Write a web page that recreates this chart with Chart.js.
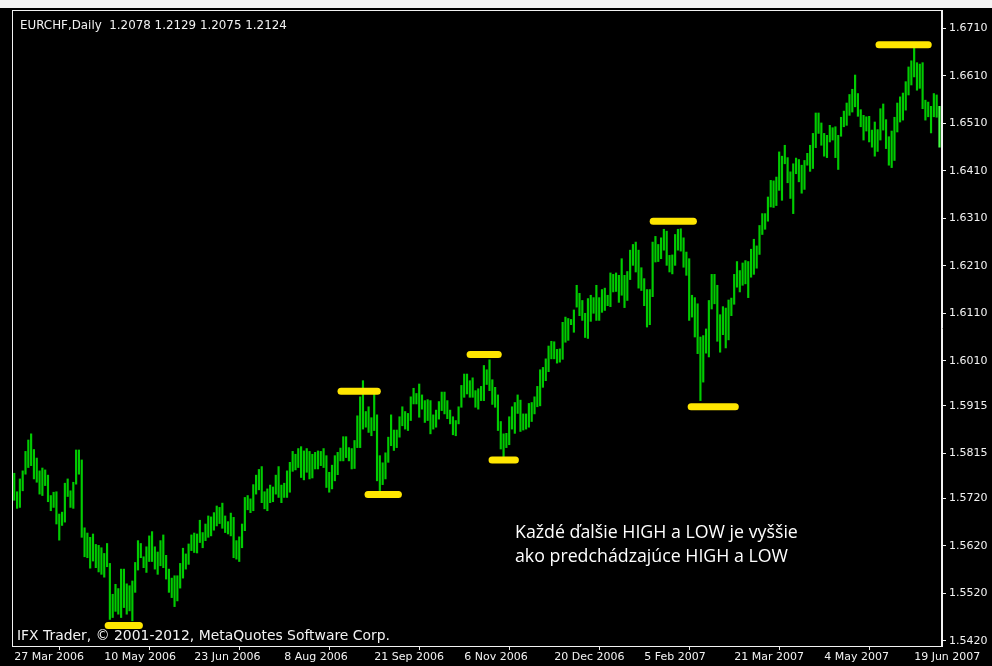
<!DOCTYPE html>
<html>
<head>
<meta charset="utf-8">
<title>EURCHF Daily</title>
<script src="https://cdn.jsdelivr.net/npm/chart.js@4.4.1/dist/chart.umd.min.js"></script>
<style>
  html, body { margin: 0; padding: 0; background: #000; }
  #wrap { width: 992px; height: 666px; }
</style>
</head>
<body>
<div id="wrap"><canvas id="grafico" width="992" height="666"></canvas></div>
<script>
// DATA (one daily bar per entry, high / low)
const highs = [
  1.5773,1.5734,1.5761,1.5778,1.5819,1.5843,1.5856,1.5823,1.5805,1.5778,
  1.5784,1.5780,1.5769,1.5726,1.5733,1.5734,1.5687,1.5691,1.5752,1.5761,
  1.5736,1.5754,1.5822,1.5822,1.5801,1.5658,1.5647,1.5638,1.5645,1.5623,
  1.5621,1.5616,1.5604,1.5625,1.5583,1.5518,1.5539,1.5530,1.5571,1.5571,
  1.5540,1.5536,1.5546,1.5585,1.5631,1.5625,1.5597,1.5618,1.5641,1.5650,
  1.5618,1.5607,1.5631,1.5643,1.5600,1.5571,1.5552,1.5557,1.5557,1.5583,
  1.5615,1.5603,1.5624,1.5643,1.5647,1.5645,1.5674,1.5648,1.5666,1.5683,
  1.5681,1.5690,1.5704,1.5701,1.5710,1.5683,1.5671,1.5689,1.5680,1.5631,
  1.5639,1.5666,1.5722,1.5726,1.5719,1.5749,1.5769,1.5781,1.5787,1.5734,
  1.5740,1.5748,1.5744,1.5769,1.5787,1.5748,1.5752,1.5778,1.5796,1.5819,
  1.5813,1.5825,1.5829,1.5820,1.5825,1.5819,1.5813,1.5817,1.5820,1.5819,
  1.5825,1.5810,1.5775,1.5790,1.5810,1.5817,1.5826,1.5850,1.5850,1.5827,
  1.5825,1.5842,1.5894,1.5934,1.5968,1.5903,1.5913,1.5890,1.5940,1.5896,
  1.5810,1.5795,1.5816,1.5849,1.5896,1.5864,1.5864,1.5892,1.5913,1.5903,
  1.5899,1.5934,1.5952,1.5941,1.5961,1.5938,1.5926,1.5928,1.5926,1.5896,
  1.5906,1.5924,1.5944,1.5944,1.5926,1.5906,1.5892,1.5884,1.5913,1.5958,
  1.5982,1.5982,1.5968,1.5974,1.5947,1.5951,1.5956,1.6000,1.5991,1.6012,
  1.5970,1.5954,1.5938,1.5882,1.5856,1.5857,1.5892,1.5913,1.5922,1.5938,
  1.5927,1.5898,1.5898,1.5920,1.5922,1.5934,1.5956,1.5991,1.5996,1.6014,
  1.6041,1.6051,1.6050,1.6034,1.6035,1.6091,1.6102,1.6099,1.6097,1.6117,
  1.6169,1.6152,1.6137,1.6110,1.6141,1.6148,1.6143,1.6169,1.6143,1.6160,
  1.6163,1.6148,1.6195,1.6192,1.6195,1.6190,1.6225,1.6190,1.6198,1.6243,
  1.6255,1.6260,1.6243,1.6206,1.6183,1.6160,1.6160,1.6260,1.6272,1.6255,
  1.6269,1.6287,1.6283,1.6232,1.6233,1.6276,1.6287,1.6288,1.6269,1.6239,
  1.6225,1.6148,1.6143,1.6130,1.6060,1.6063,1.6077,1.6137,1.6192,1.6192,
  1.6169,1.6107,1.6124,1.6121,1.6138,1.6142,1.6192,1.6219,1.6200,1.6216,
  1.6221,1.6219,1.6245,1.6266,1.6252,1.6295,1.6320,1.6320,1.6355,1.6390,
  1.6389,1.6397,1.6450,1.6441,1.6464,1.6438,1.6408,1.6425,1.6437,1.6434,
  1.6422,1.6432,1.6447,1.6464,1.6489,1.6532,1.6532,1.6511,1.6489,1.6485,
  1.6506,1.6501,1.6503,1.6485,1.6523,1.6536,1.6553,1.6571,1.6582,1.6612,
  1.6573,1.6539,1.6527,1.6524,1.6525,1.6496,1.6513,1.6497,1.6541,1.6551,
  1.6518,1.6482,1.6494,1.6523,1.6553,1.6566,1.6574,1.6598,1.6629,1.6642,
  1.6670,1.6638,1.6635,1.6638,1.6559,1.6555,1.6546,1.6573,1.6570,1.6546
];
const lows = [
  1.5716,1.5699,1.5701,1.5736,1.5771,1.5785,1.5789,1.5761,1.5754,1.5729,
  1.5726,1.5747,1.5713,1.5694,1.5701,1.5666,1.5632,1.5663,1.5670,1.5724,
  1.5701,1.5699,1.5750,1.5771,1.5638,1.5597,1.5595,1.5573,1.5588,1.5574,
  1.5565,1.5560,1.5554,1.5576,1.5465,1.5469,1.5482,1.5476,1.5469,1.5490,
  1.5476,1.5483,1.5462,1.5522,1.5569,1.5595,1.5574,1.5564,1.5587,1.5587,
  1.5571,1.5560,1.5578,1.5574,1.5550,1.5522,1.5511,1.5492,1.5504,1.5531,
  1.5552,1.5571,1.5581,1.5610,1.5606,1.5605,1.5627,1.5616,1.5631,1.5638,
  1.5641,1.5653,1.5662,1.5667,1.5657,1.5648,1.5645,1.5641,1.5595,1.5592,
  1.5587,1.5616,1.5652,1.5696,1.5690,1.5694,1.5729,1.5738,1.5711,1.5698,
  1.5694,1.5711,1.5713,1.5729,1.5722,1.5711,1.5722,1.5722,1.5733,1.5777,
  1.5780,1.5785,1.5764,1.5759,1.5775,1.5761,1.5763,1.5782,1.5782,1.5789,
  1.5785,1.5743,1.5733,1.5740,1.5757,1.5770,1.5799,1.5799,1.5806,1.5799,
  1.5782,1.5783,1.5827,1.5827,1.5866,1.5870,1.5859,1.5852,1.5863,1.5757,
  1.5732,1.5749,1.5761,1.5796,1.5831,1.5821,1.5827,1.5849,1.5873,1.5866,
  1.5863,1.5884,1.5919,1.5919,1.5891,1.5908,1.5880,1.5884,1.5856,1.5866,
  1.5870,1.5887,1.5905,1.5898,1.5888,1.5877,1.5854,1.5852,1.5877,1.5912,
  1.5933,1.5940,1.5933,1.5933,1.5912,1.5908,1.5926,1.5926,1.5960,1.5947,
  1.5918,1.5912,1.5863,1.5824,1.5808,1.5827,1.5833,1.5866,1.5857,1.5899,
  1.5861,1.5864,1.5866,1.5870,1.5882,1.5898,1.5913,1.5915,1.5954,1.5968,
  1.5987,1.6014,1.6014,1.6005,1.6007,1.6013,1.6049,1.6053,1.6086,1.6070,
  1.6123,1.6105,1.6095,1.6059,1.6057,1.6093,1.6110,1.6095,1.6095,1.6112,
  1.6116,1.6126,1.6124,1.6155,1.6156,1.6133,1.6148,1.6122,1.6137,1.6181,
  1.6211,1.6197,1.6163,1.6158,1.6126,1.6081,1.6086,1.6145,1.6218,1.6219,
  1.6225,1.6243,1.6211,1.6197,1.6193,1.6211,1.6243,1.6241,1.6207,1.6190,
  1.6095,1.6102,1.6060,1.6025,1.5926,1.5965,1.6026,1.6018,1.6119,1.6130,
  1.6051,1.6028,1.6065,1.6037,1.6054,1.6105,1.6129,1.6165,1.6155,1.6169,
  1.6172,1.6143,1.6186,1.6192,1.6205,1.6234,1.6276,1.6287,1.6304,1.6334,
  1.6333,1.6337,1.6369,1.6348,1.6425,1.6385,1.6352,1.6320,1.6404,1.6387,
  1.6363,1.6371,1.6422,1.6409,1.6415,1.6459,1.6489,1.6464,1.6441,1.6438,
  1.6471,1.6475,1.6438,1.6413,1.6483,1.6503,1.6506,1.6527,1.6534,1.6545,
  1.6525,1.6503,1.6475,1.6494,1.6471,1.6460,1.6441,1.6451,1.6475,1.6496,
  1.6457,1.6422,1.6417,1.6432,1.6492,1.6513,1.6517,1.6538,1.6570,1.6591,
  1.6608,1.6580,1.6584,1.6541,1.6517,1.6524,1.6490,1.6524,1.6523,1.6460
];

// one date label every 32 bars
const dateLabels = [
  "27 Mar 2006", "10 May 2006", "23 Jun 2006", "8 Aug 2006", "21 Sep 2006",
  "6 Nov 2006", "20 Dec 2006", "5 Feb 2007", "21 Mar 2007", "4 May 2007", "19 Jun 2007"
];
const priceTicks = [1.6710, 1.6610, 1.6510, 1.6410, 1.6310, 1.6210, 1.6110, 1.6010,
                    1.5915, 1.5815, 1.5720, 1.5620, 1.5520, 1.5420];

// yellow HIGH / LOW markers: bar index from, bar index to, price
const markerFrom  = [33.4, 116.2, 125.8, 162.1, 169.9, 227.2, 240.7, 307.5];
const markerTo    = [44.5, 129.1, 136.6, 172.1, 178.2, 241.5, 256.4, 325.0];
const markerPrice = [1.5452, 1.5946, 1.5728, 1.6023, 1.5801, 1.6304, 1.5913, 1.6676];

const headerText = "EURCHF,Daily  1.2078 1.2129 1.2075 1.2124";
const copyText = "IFX Trader, \u00A9 2001-2012, MetaQuotes Software Corp.";
const noteLines = ["Každé ďalšie HIGH a LOW je vyššie", "ako predchádzajúce HIGH a LOW"];

const BAR_GREEN = "#00cc00";
const LAST_GREEN = "#44ff44";
const YELLOW = "#ffe600";
const FG = "#f2f2f2";

// datasets
const barData = highs.map((h, i) => ({ x: i, y: [lows[i], h] }));

const markerSets = markerPrice.map((p, k) => ({
  type: "line",
  data: [{ x: markerFrom[k], y: p }, { x: markerTo[k], y: p }],
  borderColor: YELLOW,
  borderWidth: 7,
  borderCapStyle: "round",
  pointRadius: 0,
  order: 1
}));

function fitSize(ctx, text, family, width) {
  ctx.font = "100px " + family;
  return 100 * width / ctx.measureText(text).width;
}

const decor = {
  id: "decor",
  beforeDraw(chart) {
    const c = chart.ctx;
    c.save();
    c.fillStyle = "#000";
    c.fillRect(0, 0, chart.width, chart.height);
    // light strip at the top edge of the screenshot
    c.fillStyle = "#f4f4f4";
    c.fillRect(0, 0, chart.width, 8);
    c.restore();
  },
  afterDraw(chart) {
    const c = chart.ctx;
    const a = chart.chartArea;
    c.save();
    // frame
    c.strokeStyle = FG;
    c.lineWidth = 1;
    c.strokeRect(a.left + 0.5, a.top + 0.5, a.right - a.left - 1, a.bottom - a.top);

    c.fillStyle = FG;
    c.textBaseline = "alphabetic";
    c.textAlign = "left";

    // header
    let s = fitSize(c, headerText, "'DejaVu Sans'", 267);
    c.font = s.toFixed(2) + "px 'DejaVu Sans'";
    c.fillText(headerText, 20, 28.5);

    // copyright
    s = fitSize(c, copyText, "'DejaVu Sans'", 373);
    c.font = s.toFixed(2) + "px 'DejaVu Sans'";
    c.fillText(copyText, 17, 640);

    // annotation
    s = fitSize(c, noteLines[0], "'Open Sans'", 283);
    c.font = s.toFixed(2) + "px 'Open Sans'";
    c.fillStyle = "#ffffff";
    c.fillText(noteLines[0], 515, 538);
    c.fillText(noteLines[1], 515, 562);
    c.restore();
  }
};

const ctx = document.getElementById("grafico");

new Chart(ctx, {
  type: "bar",
  data: {
    datasets: [
      {
        type: "bar",
        data: barData,
        backgroundColor: (c) => c.dataIndex === highs.length - 1 ? LAST_GREEN : BAR_GREEN,
        borderWidth: 0,
        barThickness: 1.5,
        grouped: false,
        order: 2
      },
      ...markerSets
    ]
  },
  options: {
    responsive: false,
    animation: false,
    devicePixelRatio: 1,
    layout: { padding: { left: 12, top: 10, right: 0, bottom: 0 } },
    plugins: {
      legend: { display: false },
      tooltip: { enabled: false }
    },
    scales: {
      x: {
        type: "linear",
        offset: false,
        min: -0.8,
        max: 329.9,
        afterBuildTicks: (scale) => {
          scale.ticks = dateLabels.map((d, k) => ({ value: k * 32 }));
        },
        afterFit: (scale) => { scale.height = 20; },
        grid: {
          display: true,
          drawOnChartArea: false,
          drawTicks: true,
          tickLength: 4,
          color: FG
        },
        border: { display: true, color: FG },
        ticks: {
          autoSkip: false,
          maxRotation: 0,
          align: "start",
          padding: 1,
          color: FG,
          font: { family: "'DejaVu Sans'", size: 11 },
          callback: (v) => dateLabels[Math.round(v / 32)]
        }
      },
      y: {
        position: "right",
        min: 1.5409,
        max: 1.6749,
        afterBuildTicks: (scale) => {
          scale.ticks = priceTicks.map((v) => ({ value: v }));
        },
        afterFit: (scale) => { scale.width = 50; },
        grid: {
          display: true,
          drawOnChartArea: false,
          drawTicks: true,
          tickLength: 4,
          color: FG
        },
        border: { display: true, color: FG },
        ticks: {
          padding: 3,
          color: FG,
          font: { family: "'DejaVu Sans'", size: 11 },
          callback: (v) => Number(v).toFixed(4)
        }
      }
    }
  },
  plugins: [decor]
});
</script>
</body>
</html>
